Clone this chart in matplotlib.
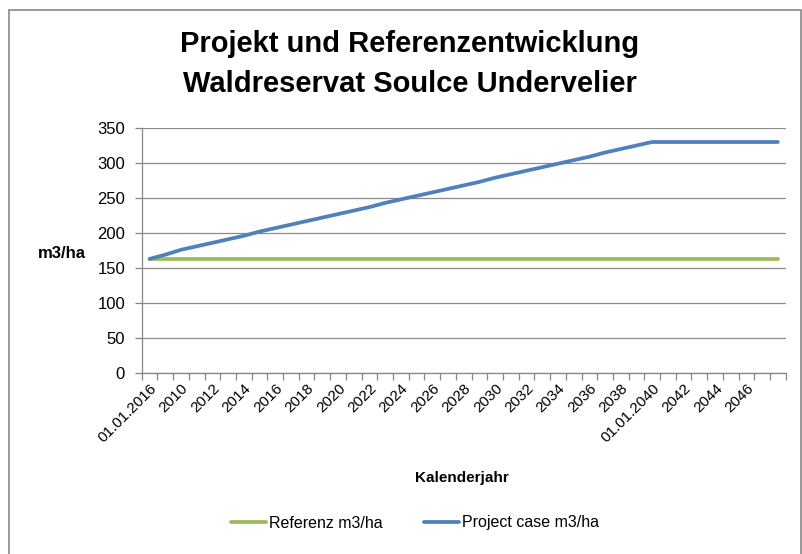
import matplotlib
matplotlib.use("Agg")
import matplotlib.pyplot as plt
import numpy as np
from matplotlib.patches import Rectangle

plt.rcParams['font.family'] = ['Liberation Sans', 'DejaVu Sans']

# category labels as in the spreadsheet (only every second one is shown)
categories = ["01.01.2016", "2009", "2010", "2011", "2012", "2013", "2014", "2015",
              "2016", "2017", "2018", "2019", "2020", "2021", "2022", "2023",
              "2024", "2025", "2026", "2027", "2028", "2029", "2030", "2031",
              "2032", "2033", "2034", "2035", "2036", "2037", "2038", "2039",
              "01.01.2040", "2041", "2042", "2043", "2044", "2045", "2046", "2047",
              "2048"]

referenz = [163] * 41

project = [163, 169, 176, 181, 186, 191, 196, 202, 207, 212,
           217, 222, 227, 232, 237, 243, 248, 253, 258, 263,
           268, 273, 279, 284, 289, 294, 299, 304, 309, 315,
           320, 325, 330, 330, 330, 330, 330, 330, 330, 330,
           330]

W, H = 803, 554
fig = plt.figure(figsize=(W / 100, H / 100), dpi=100)

# chart area frame
fig.patches.append(Rectangle((9 / W, -2 / H), (801 - 9) / W, (H - 8) / H,
                             transform=fig.transFigure, fill=False,
                             edgecolor='#868686', lw=1.2))

ax = fig.add_axes([141.7 / W, 1 - 373 / H, 644 / W, 245 / H])
x = np.arange(len(categories))
ax.plot(x, referenz, color='#9BBB59', lw=2.7, solid_capstyle='round',
        label='Referenz m3/ha')
ax.plot(x, project, color='#4F81BD', lw=2.7, solid_capstyle='round',
        label='Project case m3/ha')

ax.set_xlim(-0.5, len(categories) - 0.5)
ax.set_ylim(0, 350)
ax.set_yticks(range(0, 351, 50))
ax.yaxis.grid(True, color='#8c8c8c', lw=0.9)
ax.set_axisbelow(True)

for s in ['top', 'right']:
    ax.spines[s].set_visible(False)
for s in ['left', 'bottom']:
    ax.spines[s].set_color('#868686')
    ax.spines[s].set_linewidth(0.9)

shown = list(range(0, 40, 2))
ax.set_xticks(shown)
ax.set_xticklabels([categories[i] for i in shown], rotation=45, ha='right',
                   va='top', rotation_mode='anchor', fontsize=11)
ax.set_xticks(np.arange(-0.5, len(categories)), minor=True)
ax.tick_params(axis='x', which='major', length=0, pad=6)
ax.tick_params(axis='x', which='minor', length=5, color='#868686', width=0.9)
ax.tick_params(axis='y', length=5, color='#868686', width=0.9, labelsize=12, pad=7)

fig.text(410 / W, 1 - 64 / H,
         "Projekt und Referenzentwicklung\nWaldreservat Soulce Undervelier",
         ha='center', va='center', fontsize=21, fontweight='bold', linespacing=1.5)
fig.text(62 / W, 1 - 253 / H, "m3/ha", ha='center', va='center',
         fontsize=12, fontweight='bold')
fig.text(462 / W, 1 - 478 / H, "Kalenderjahr", ha='center', va='center',
         fontsize=11, fontweight='bold')

fig.legend(loc='center', bbox_to_anchor=(415 / W, 1 - 523 / H), ncol=2,
           frameon=False, fontsize=11.5, handlelength=2.2, columnspacing=2.6,
           handletextpad=0.2)

fig.savefig("out.png", dpi=100)
